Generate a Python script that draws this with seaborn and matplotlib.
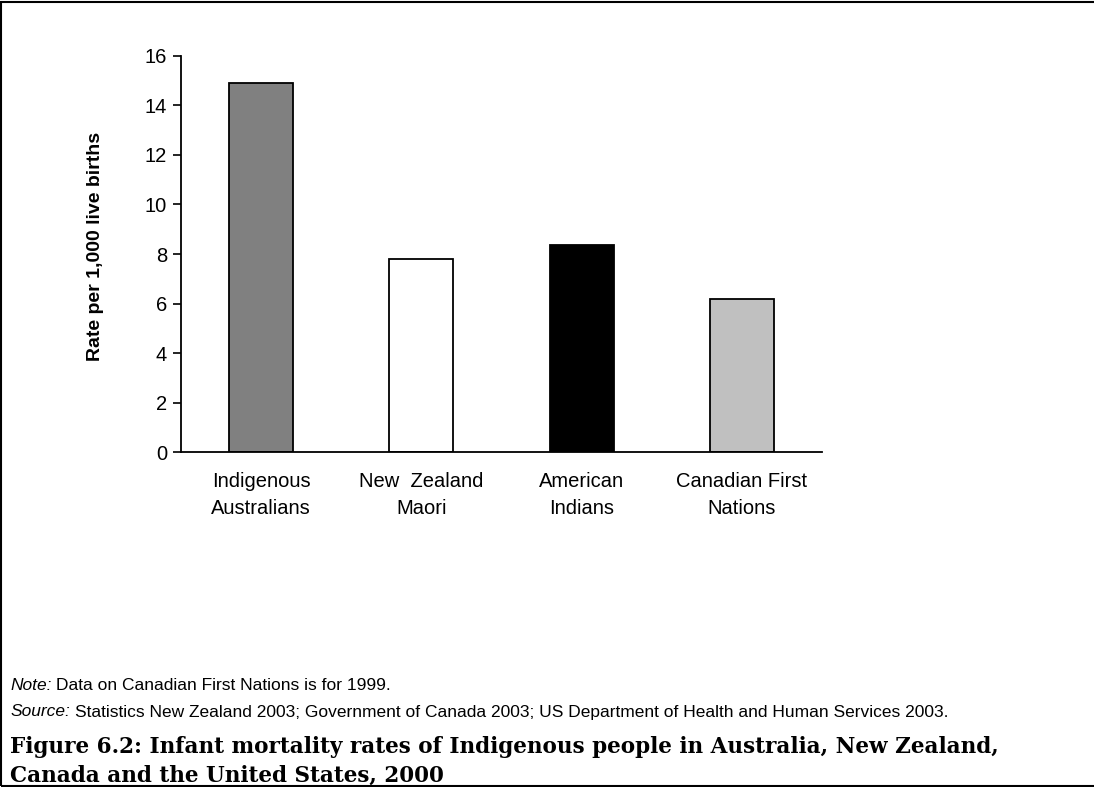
import pandas as pd
import seaborn as sns
import matplotlib.pyplot as plt
from matplotlib.patches import Rectangle

# ==========================
# DATA
# ==========================

categories = ["Indigenous\nAustralians", "New  Zealand\nMaori", "American\nIndians", "Canadian First\nNations"]
rates = [14.9, 7.8, 8.35, 6.2]
bar_colors = ["#808080", "#ffffff", "#000000", "#c0c0c0"]
y_ticks = [0, 2, 4, 6, 8, 10, 12, 14, 16]

note_text = "Data on Canadian First Nations is for 1999."
source_text = "Statistics New Zealand 2003; Government of Canada 2003; US Department of Health and Human Services 2003."
caption = ("Figure 6.2: Infant mortality rates of Indigenous people in Australia, New Zealand,\n"
           "Canada and the United States, 2000")

df = pd.DataFrame({"group": categories, "rate": rates})

# ==========================
# PLOT
# ==========================

sns.set_style("white")
plt.rcParams["font.family"] = ["Liberation Sans", "DejaVu Sans"]
plt.rcParams["text.color"] = "black"
plt.rcParams["axes.labelcolor"] = "black"
plt.rcParams["xtick.color"] = "black"
plt.rcParams["ytick.color"] = "black"

fig = plt.figure(figsize=(10.94, 7.87), dpi=100)
ax = fig.add_axes([0.1654, 0.4253, 0.586, 0.5039])

sns.barplot(data=df, x="group", y="rate", hue="group", palette=bar_colors,
            width=0.4, edgecolor="black", linewidth=1.3, legend=False, ax=ax)

ax.set_ylim(0, 16)
ax.set_xlim(-0.5, 3.5)
ax.set_yticks(y_ticks)
ax.set_yticklabels([str(t) for t in y_ticks], fontsize=14.5)
ax.tick_params(axis="y", direction="out", length=6, width=1.2, color="black", pad=4, left=True)
ax.tick_params(axis="x", length=0, pad=14, labelsize=14.5)
ax.set_xlabel("")
ax.set_ylabel("Rate per 1,000 live births", fontsize=14, fontweight="bold")
ax.yaxis.set_label_coords(-0.12, 0.52)
for lab in ax.get_xticklabels():
    lab.set_linespacing(1.55)

sns.despine(ax=ax)
for side in ["left", "bottom"]:
    ax.spines[side].set_color("black")
    ax.spines[side].set_linewidth(1.3)

# ==========================
# NOTE / SOURCE
# ==========================

renderer = fig.canvas.get_renderer()
inv = fig.transFigure.inverted()
for label, body, ypix in [("Note:", note_text, 685), ("Source:", source_text, 712)]:
    t = fig.text(0.0095, 1 - ypix / 787, label, fontsize=12.5, va="center", style="italic")
    x_end = inv.transform(t.get_window_extent(renderer))[1][0]
    fig.text(x_end + 0.004, 1 - ypix / 787, body, fontsize=12.5, va="center")

# caption
fig.text(0.0095, 1 - 761 / 787, caption,
         fontsize=15.5, fontweight="bold", family=["DejaVu Serif"], va="center", linespacing=1.4)

# frame
fig.patches.append(Rectangle((0.001, 0.001), 1.2, 0.997, transform=fig.transFigure,
                             fill=False, edgecolor="black", linewidth=1.5))

fig.savefig("out.png", dpi=100)
